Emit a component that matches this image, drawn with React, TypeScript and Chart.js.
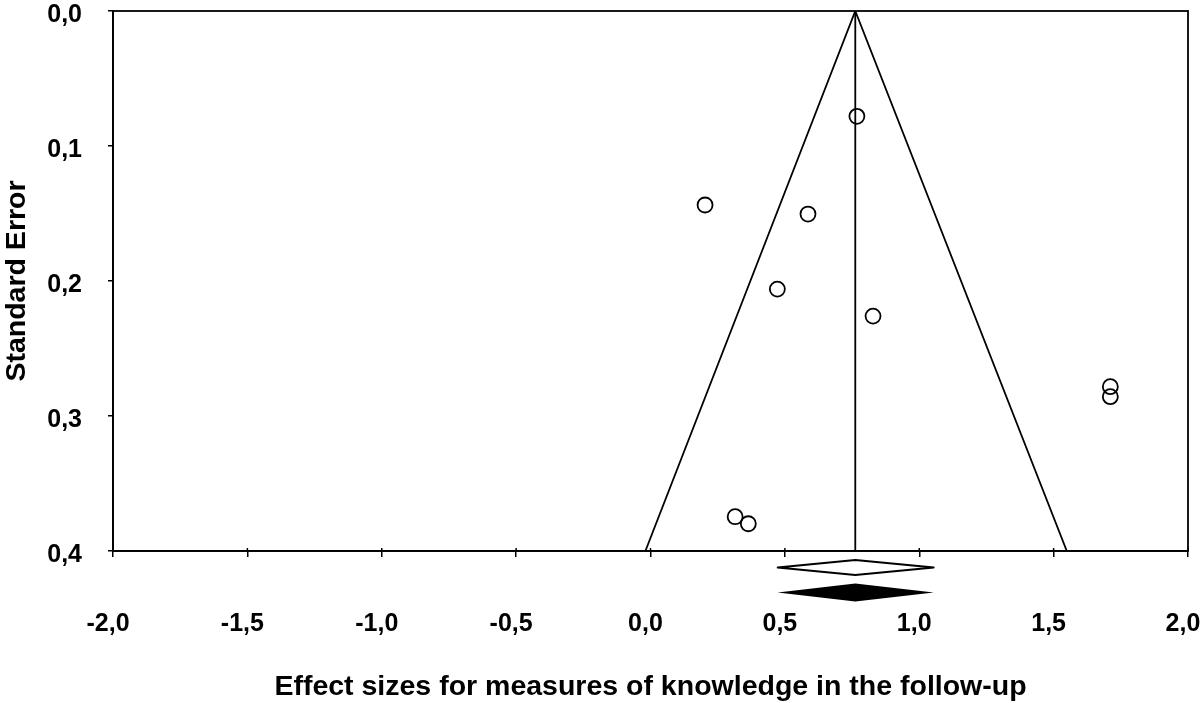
import React, { useEffect, useRef } from "react";
import { Chart, registerables } from "chart.js";

Chart.register(...registerables);

// Study effect sizes (x) and standard errors (y)
const effectSizes = [0.768, 0.203, 0.586, 0.472, 0.828, 1.711, 1.711, 0.315, 0.364];
const standardErrors = [0.078, 0.1437, 0.1504, 0.206, 0.226, 0.2783, 0.2857, 0.3746, 0.3798];

// Funnel (pseudo 95% confidence limits) and pooled estimate
const funnelX = [-0.019, 0.762, 1.549];
const funnelY = [0.4, 0.0, 0.4];
const pooledLineX = [0.762, 0.762];
const pooledLineY = [0.0, 0.4];

// Summary diamonds: [lower, estimate, upper]
const summaryOpen = [0.473, 0.762, 1.054];
const summaryFilled = [0.473, 0.762, 1.054];

const xTicks = [-2, -1.5, -1, -0.5, 0, 0.5, 1, 1.5, 2];
const yTicks = [0, 0.1, 0.2, 0.3, 0.4];

const FONT = '"Liberation Sans", Arial, Helvetica, sans-serif';

const fmt = (v: number) => (Math.round(v * 10) / 10).toFixed(1).replace(".", ",");

const framePlugin = {
  id: "frameAndDiamonds",
  afterDatasetsDraw(chart: any) {
    const { ctx, chartArea, scales } = chart;
    ctx.save();
    ctx.strokeStyle = "#000";
    ctx.lineWidth = 1.8;
    ctx.strokeRect(chartArea.left, chartArea.top, chartArea.right - chartArea.left, chartArea.bottom - chartArea.top);

    // inner part of the x tick marks (they cross the axis line)
    ctx.lineWidth = 1.5;
    xTicks.forEach((v) => {
      const px = scales.x.getPixelForValue(v);
      ctx.beginPath();
      ctx.moveTo(px, chartArea.bottom - 3);
      ctx.lineTo(px, chartArea.bottom);
      ctx.stroke();
    });

    const drawDiamond = (vals: number[], offset: number, half: number, filled: boolean) => {
      const xl = scales.x.getPixelForValue(vals[0]);
      const xm = scales.x.getPixelForValue(vals[1]);
      const xr = scales.x.getPixelForValue(vals[2]);
      const yc = chartArea.bottom + offset;
      ctx.beginPath();
      ctx.moveTo(xl, yc);
      ctx.lineTo(xm, yc - half);
      ctx.lineTo(xr, yc);
      ctx.lineTo(xm, yc + half);
      ctx.closePath();
      if (filled) {
        ctx.fillStyle = "#000";
        ctx.fill();
      } else {
        ctx.fillStyle = "#fff";
        ctx.fill();
        ctx.lineJoin = "round";
        ctx.lineWidth = 1.8;
        ctx.strokeStyle = "#000";
        ctx.stroke();
      }
    };
    drawDiamond(summaryOpen, 16.5, 7.5, false);
    drawDiamond(summaryFilled, 41.5, 9, true);
    ctx.restore();
  },
};

const zeroPad = (s: any) => {
  s.paddingLeft = 0;
  s.paddingRight = 0;
  s.paddingTop = 0;
  s.paddingBottom = 0;
};

export default function App() {
  const ref = useRef<HTMLCanvasElement | null>(null);

  useEffect(() => {
    if (!ref.current) return;
    const studies = effectSizes.map((x, i) => ({ x, y: standardErrors[i] }));
    const funnel = funnelX.map((x, i) => ({ x, y: funnelY[i] }));
    const pooled = pooledLineX.map((x, i) => ({ x, y: pooledLineY[i] }));

    const chart = new Chart(ref.current, {
      type: "scatter",
      data: {
        datasets: [
          {
            label: "Funnel",
            data: funnel,
            showLine: true,
            borderColor: "#000",
            borderWidth: 1.8,
            pointRadius: 0,
            fill: false,
            tension: 0,
          },
          {
            label: "Pooled",
            data: pooled,
            showLine: true,
            borderColor: "#000",
            borderWidth: 1.8,
            pointRadius: 0,
            fill: false,
          },
          {
            label: "Studies",
            data: studies,
            pointRadius: 7.5,
            pointBorderWidth: 1.8,
            pointBorderColor: "#000",
            pointBackgroundColor: "rgba(255,255,255,0)",
            backgroundColor: "rgba(255,255,255,0)",
            borderColor: "#000",
          },
        ],
      },
      options: {
        responsive: false,
        animation: false,
        layout: { padding: { top: 11, right: 12, left: 0, bottom: 0 } },
        plugins: {
          legend: { display: false },
          tooltip: { enabled: false },
        },
        scales: {
          x: {
            type: "linear",
            min: -2,
            max: 2,
            afterBuildTicks: (s: any) => {
              s.ticks = xTicks.map((v) => ({ value: v }));
            },
            afterFit: (s: any) => {
              s.height = 152;
              zeroPad(s);
            },
            grid: { drawOnChartArea: false, tickLength: 6, color: "#000", lineWidth: 1.5 },
            border: { color: "#000", width: 1.8 },
            ticks: {
              color: "#000",
              font: { family: FONT, size: 25, weight: "bold" },
              padding: 52,
              labelOffset: -5,
              maxRotation: 0,
              autoSkip: false,
              callback: (v: any) => fmt(Number(v)),
            },
            title: {
              display: true,
              text: "Effect sizes for measures of knowledge in the follow-up",
              color: "#000",
              font: { family: FONT, size: 28.5, weight: "bold" },
              padding: { top: 0, bottom: -1 },
            },
          },
          y: {
            type: "linear",
            min: 0,
            max: 0.4,
            reverse: true,
            afterBuildTicks: (s: any) => {
              s.ticks = yTicks.map((v) => ({ value: v }));
            },
            afterFit: (s: any) => {
              s.width = 113;
              zeroPad(s);
            },
            grid: { drawOnChartArea: false, tickLength: 5, color: "#000", lineWidth: 1.5 },
            border: { color: "#000", width: 1.8 },
            ticks: {
              color: "#000",
              font: { family: FONT, size: 25, weight: "bold" },
              padding: 26,
              labelOffset: 4,
              autoSkip: false,
              callback: (v: any) => fmt(Number(v)),
            },
            title: {
              display: true,
              text: "Standard Error",
              color: "#000",
              font: { family: FONT, size: 28.5, weight: "bold" },
              padding: { top: 0, bottom: 0 },
            },
          },
        },
      },
      plugins: [framePlugin],
    });
    return () => chart.destroy();
  }, []);

  return (
    <div style={{ position: "absolute", left: 0, top: 0, width: 1200, height: 703, background: "#fff" }}>
      <canvas ref={ref} width={1200} height={703} style={{ display: "block" }} />
    </div>
  );
}
